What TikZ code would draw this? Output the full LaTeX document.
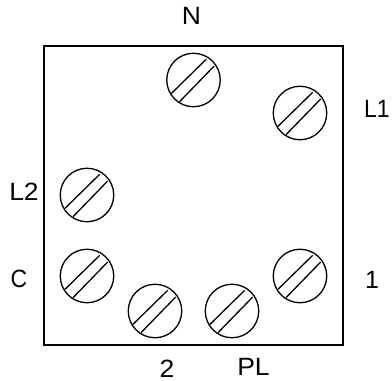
\documentclass[tikz,border=0pt]{standalone}
\usepackage{fontspec}
\setmainfont{Liberation Sans}
\usetikzlibrary{calc}
\newcommand{\widetext}[1]{\scalebox{1.06}[1]{#1}}
\newcommand{\slimtext}[1]{\scalebox{0.92}[1]{#1}}
\tikzset{
  px/.style={x=1pt,y=-1pt},
  box/.style={draw=black,line width=1.8pt,minimum width=299pt,minimum height=299pt,inner sep=0pt,outer sep=0pt,anchor=north west},
  screw/.style={draw=black,line width=1.3pt,circle,minimum size=53.5pt,inner sep=0pt,outer sep=0pt},
  slot/.style={draw=black,line width=1.3pt},
  lab/.style={font=\fontsize{25}{25}\selectfont,inner sep=0pt,outer sep=0pt,anchor=base,text=black}
}
\begin{document}
\begin{tikzpicture}[px]
\useasboundingbox (0,0) rectangle (392,381);
\node[box] (frame) at (44,46) {};
\foreach \n/\x/\y in {sN/193.5/80, sLa/300/113, sLb/87/195, sC/87/276, sT/155/311, sP/232/311, sO/300/276}{
  \node[screw] (\n) at (\x,\y) {};
  \draw[slot] ($(\n)+(-22.7,14)$) -- ($(\n)+(12.7,-20.7)$);
  \draw[slot] ($(\n)+(-14,21.7)$) -- ($(\n)+(20.7,-14)$);
}
\node[lab] (tN) at (191.5,24) {\widetext{N}};
\node[lab] (tLa) at (377,117) {\slimtext{L1}};
\node[lab] (tLb) at (24,200) {\widetext{L2}};
\node[lab] (tC) at (19,287) {\slimtext{C}};
\node[lab] (tO) at (372,288) {1};
\node[lab] (tT) at (167,377) {\widetext{2}};
\node[lab] (tP) at (253.5,375) {\widetext{PL}};
\end{tikzpicture}
\end{document}
